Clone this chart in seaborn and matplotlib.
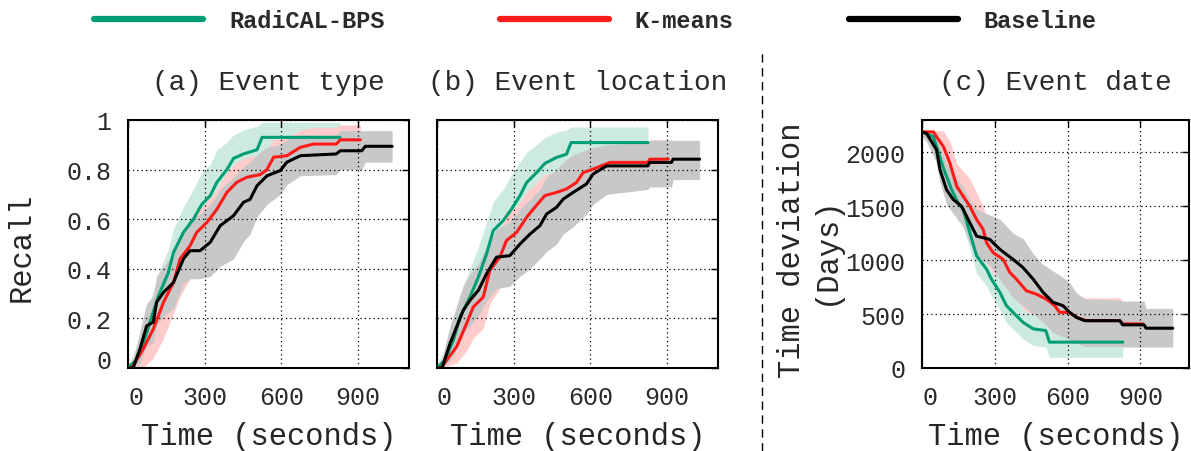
import matplotlib
matplotlib.use("Agg")
import matplotlib.pyplot as plt
from matplotlib.lines import Line2D
from matplotlib.font_manager import FontProperties
import seaborn as sns

# ---------------- data ----------------
SERIES = ["RadiCAL-BPS", "K-means", "Baseline"]
X_TICKS = [0, 300, 600, 900]
RECALL_TICKS = [0, 0.2, 0.4, 0.6, 0.8, 1.0]
RECALL_TICK_LABELS = ["0", "0.2", "0.4", "0.6", "0.8", "1"]
DEV_TICKS = [0, 500, 1000, 1500, 2000]
TITLES = ["(a) Event type", "(b) Event location", "(c) Event date"]

# (a) Event type
A_RAD_T = [0, 30, 60, 86, 119, 158, 178, 217, 256, 289, 322, 348, 387, 413, 452, 505, 525, 830]
A_RAD_V = [0, 0.03, 0.10, 0.185, 0.29, 0.385, 0.466, 0.547, 0.60, 0.66, 0.695, 0.749, 0.80, 0.845, 0.863, 0.88, 0.93, 0.93]
A_RAD_LO = [0, 0, 0.04, 0.11, 0.20, 0.29, 0.37, 0.44, 0.49, 0.55, 0.59, 0.64, 0.70, 0.76, 0.78, 0.80, 0.87, 0.87]
A_RAD_HI = [0.01, 0.08, 0.17, 0.27, 0.38, 0.48, 0.56, 0.65, 0.72, 0.79, 0.82, 0.88, 0.91, 0.94, 0.96, 0.975, 0.99, 0.99]

A_KM_T = [0, 15, 60, 99, 139, 178, 204, 243, 269, 309, 348, 387, 426, 465, 518, 544, 570, 622, 675, 727, 815, 831, 910]
A_KM_V = [0, 0, 0.077, 0.157, 0.265, 0.345, 0.44, 0.493, 0.547, 0.587, 0.64, 0.708, 0.749, 0.769, 0.78, 0.80, 0.85, 0.856, 0.89, 0.903, 0.903, 0.92, 0.92]
A_KM_LO = [0, 0, 0, 0.04, 0.12, 0.22, 0.29, 0.36, 0.42, 0.47, 0.53, 0.60, 0.65, 0.68, 0.70, 0.72, 0.77, 0.78, 0.82, 0.84, 0.84, 0.86, 0.86]
A_KM_HI = [0.01, 0.03, 0.13, 0.23, 0.35, 0.44, 0.53, 0.58, 0.63, 0.67, 0.72, 0.79, 0.83, 0.85, 0.86, 0.88, 0.92, 0.93, 0.96, 0.97, 0.97, 0.98, 0.98]

A_BL_T = [0, 20, 47, 73, 99, 112, 139, 178, 217, 243, 282, 322, 361, 413, 452, 478, 505, 544, 596, 622, 675, 815, 831, 915, 929, 1034]
A_BL_V = [0, 0, 0.077, 0.17, 0.185, 0.265, 0.305, 0.345, 0.44, 0.473, 0.473, 0.507, 0.574, 0.614, 0.668, 0.68, 0.735, 0.775, 0.796, 0.83, 0.856, 0.863, 0.876, 0.876, 0.894, 0.894]
A_BL_LO = [0, 0, 0.02, 0.09, 0.10, 0.17, 0.21, 0.24, 0.34, 0.36, 0.36, 0.37, 0.41, 0.44, 0.51, 0.54, 0.61, 0.66, 0.70, 0.74, 0.775, 0.78, 0.80, 0.80, 0.83, 0.83]
A_BL_HI = [0.01, 0.03, 0.15, 0.26, 0.29, 0.37, 0.41, 0.46, 0.56, 0.60, 0.62, 0.66, 0.72, 0.77, 0.81, 0.83, 0.86, 0.89, 0.90, 0.92, 0.94, 0.94, 0.957, 0.957, 0.957, 0.957]

# (b) Event location
B_RAD_T = [0, 30, 64, 90, 129, 162, 194, 220, 259, 292, 325, 351, 390, 422, 468, 507, 525, 826]
B_RAD_V = [0, 0.03, 0.112, 0.206, 0.286, 0.367, 0.46, 0.554, 0.594, 0.641, 0.695, 0.748, 0.788, 0.825, 0.849, 0.862, 0.909, 0.909]
B_RAD_LO = [0, 0, 0.05, 0.12, 0.19, 0.26, 0.34, 0.43, 0.47, 0.52, 0.57, 0.63, 0.68, 0.72, 0.75, 0.77, 0.85, 0.85]
B_RAD_HI = [0.01, 0.08, 0.19, 0.30, 0.40, 0.49, 0.59, 0.67, 0.72, 0.78, 0.83, 0.87, 0.90, 0.93, 0.95, 0.96, 0.972, 0.972]

B_KM_T = [0, 15, 77, 116, 142, 181, 207, 246, 272, 312, 351, 383, 422, 468, 507, 546, 572, 611, 677, 825, 833, 905]
B_KM_V = [0, 0, 0.086, 0.18, 0.246, 0.286, 0.394, 0.447, 0.514, 0.547, 0.608, 0.648, 0.695, 0.708, 0.722, 0.748, 0.788, 0.802, 0.829, 0.829, 0.842, 0.842]
B_KM_LO = [0, 0, 0.02, 0.07, 0.12, 0.16, 0.26, 0.32, 0.39, 0.43, 0.49, 0.54, 0.59, 0.61, 0.63, 0.66, 0.70, 0.72, 0.75, 0.75, 0.77, 0.77]
B_KM_HI = [0.01, 0.03, 0.15, 0.26, 0.33, 0.38, 0.49, 0.55, 0.62, 0.65, 0.71, 0.74, 0.78, 0.79, 0.80, 0.82, 0.86, 0.87, 0.90, 0.90, 0.92, 0.92]

B_BL_T = [0, 20, 51, 77, 103, 129, 162, 194, 233, 285, 325, 364, 403, 429, 468, 494, 533, 585, 611, 664, 825, 833, 918, 924, 1028]
B_BL_V = [0, 0, 0.099, 0.166, 0.233, 0.273, 0.313, 0.38, 0.447, 0.453, 0.50, 0.54, 0.574, 0.621, 0.648, 0.681, 0.708, 0.742, 0.782, 0.815, 0.815, 0.829, 0.829, 0.842, 0.842]
B_BL_LO = [0, 0, 0.03, 0.08, 0.14, 0.17, 0.21, 0.27, 0.32, 0.33, 0.37, 0.40, 0.44, 0.47, 0.50, 0.54, 0.57, 0.62, 0.66, 0.70, 0.72, 0.73, 0.73, 0.76, 0.76]
B_BL_HI = [0.01, 0.04, 0.17, 0.25, 0.33, 0.38, 0.42, 0.49, 0.56, 0.59, 0.64, 0.68, 0.72, 0.77, 0.80, 0.83, 0.86, 0.88, 0.89, 0.90, 0.91, 0.918, 0.918, 0.918, 0.918]

# (c) Event date
C_RAD_T = [0, 47, 60, 88, 122, 149, 170, 197, 225, 266, 286, 321, 348, 389, 416, 458, 510, 525, 827]
C_RAD_V = [2190, 2145, 2054, 1854, 1654, 1531, 1470, 1254, 1039, 916, 824, 701, 578, 485, 424, 363, 347, 240, 240]
C_RAD_LO = [2150, 2030, 1920, 1700, 1500, 1360, 1310, 1100, 880, 760, 670, 540, 420, 330, 270, 210, 195, 100, 100]
C_RAD_HI = [2200, 2200, 2180, 2000, 1810, 1690, 1630, 1410, 1200, 1070, 980, 860, 730, 640, 580, 520, 500, 390, 390]

C_KM_T = [0, 47, 60, 88, 115, 143, 170, 197, 225, 252, 266, 293, 334, 362, 389, 430, 471, 512, 547, 567, 608, 636, 677, 815, 827, 910]
C_KM_V = [2190, 2190, 2145, 2054, 1900, 1685, 1592, 1500, 1377, 1285, 1162, 1070, 1008, 885, 824, 716, 685, 639, 578, 516, 516, 470, 439, 439, 409, 409]
C_KM_LO = [2150, 2100, 1950, 1850, 1700, 1490, 1400, 1300, 1180, 1090, 970, 880, 810, 690, 630, 520, 490, 450, 390, 330, 330, 290, 260, 260, 230, 230]
C_KM_HI = [2200, 2200, 2200, 2200, 2100, 1900, 1820, 1760, 1620, 1500, 1380, 1280, 1210, 1080, 1020, 910, 880, 840, 780, 720, 720, 680, 650, 650, 620, 620]

C_BL_T = [0, 19, 60, 74, 101, 129, 163, 197, 225, 279, 321, 375, 416, 458, 499, 540, 581, 608, 636, 670, 815, 827, 915, 923, 1033]
C_BL_V = [2190, 2175, 2023, 1839, 1654, 1562, 1500, 1347, 1223, 1193, 1100, 1008, 932, 824, 701, 609, 578, 516, 470, 439, 439, 400, 400, 369, 369]
C_BL_LO = [2150, 2100, 1900, 1720, 1520, 1430, 1340, 1160, 1030, 960, 820, 650, 580, 500, 424, 330, 290, 260, 230, 200, 200, 194, 194, 194, 194]
C_BL_HI = [2200, 2200, 2150, 2050, 1900, 1800, 1700, 1560, 1470, 1420, 1380, 1250, 1200, 1060, 960, 900, 840, 790, 700, 640, 630, 620, 620, 553, 553]

# ---------------- style ----------------
LINE_COLORS = ["#009e73", "#ff1a1a", "#000000"]
BAND_COLORS = ["#cdeae1", "#ffcccc", "#c8c8c8"]

sns.set_style("white")
plt.rcParams["font.family"] = ["Liberation Mono", "DejaVu Sans"]
plt.rcParams["text.color"] = "#2a2a2a"

fig = plt.figure(figsize=(11.91, 4.52), dpi=100)
W, H = 1191.0, 452.0
bottom = (H - 369) / H
height = 248 / H
ax_a = fig.add_axes([128 / W, bottom, 281 / W, height])
ax_b = fig.add_axes([437 / W, bottom, 281 / W, height])
ax_c = fig.add_axes([922 / W, bottom, 267 / W, height])

panels = [
    (ax_a, [(A_RAD_T, A_RAD_V, A_RAD_LO, A_RAD_HI), (A_KM_T, A_KM_V, A_KM_LO, A_KM_HI), (A_BL_T, A_BL_V, A_BL_LO, A_BL_HI)]),
    (ax_b, [(B_RAD_T, B_RAD_V, B_RAD_LO, B_RAD_HI), (B_KM_T, B_KM_V, B_KM_LO, B_KM_HI), (B_BL_T, B_BL_V, B_BL_LO, B_BL_HI)]),
    (ax_c, [(C_RAD_T, C_RAD_V, C_RAD_LO, C_RAD_HI), (C_KM_T, C_KM_V, C_KM_LO, C_KM_HI), (C_BL_T, C_BL_V, C_BL_LO, C_BL_HI)]),
]

for idx, (ax, series) in enumerate(panels):
    for (t, v, lo, hi), bc in zip(series, BAND_COLORS):
        ax.fill_between(t, lo, hi, color=bc, linewidth=0, zorder=1)
    for (t, v, lo, hi), lc in zip(series, LINE_COLORS):
        sns.lineplot(x=t, y=v, ax=ax, color=lc, linewidth=2.2,
                     estimator=None, sort=False, zorder=3)
    ax.set_xlim(0, 1100)
    ax.set_xticks(X_TICKS)
    ax.set_xticklabels([str(x) for x in X_TICKS])
    ax.grid(True, linestyle=(0, (1, 2.5)), color="black", linewidth=0.9, zorder=2)
    ax.tick_params(direction="in", top=True, right=True, length=5, width=1,
                   labelsize=18, pad=12, colors="black", labelcolor="#2a2a2a")
    for sp in ax.spines.values():
        sp.set_linewidth(1.5)
        sp.set_color("black")
    ax.set_title(TITLES[idx], fontsize=20, pad=22)
    ax.set_xlabel("Time (seconds)", fontsize=22)
    ax.xaxis.set_label_coords(0.5, -0.215)
    ax.get_xticklabels()[0].set_ha("left")
    ax.set_axisbelow(False)

for ax in (ax_a, ax_b):
    ax.set_ylim(0, 1)
    ax.set_yticks(RECALL_TICKS)
ax_a.set_yticklabels(RECALL_TICK_LABELS)
ax_a.get_yticklabels()[0].set_va("baseline")
ax_b.set_yticklabels([])
ax_a.set_ylabel("Recall", fontsize=22)
ax_a.yaxis.set_label_coords(-0.325, 0.49)

ax_c.set_ylim(0, 2300)
ax_c.set_yticks(DEV_TICKS)
ax_c.set_yticklabels([str(d) for d in DEV_TICKS])
ax_c.set_ylabel("Time deviation\n(Days)", fontsize=22, linespacing=1.15)
ax_c.yaxis.set_label_coords(-0.305, 0.48)

# separator
fig.add_artist(Line2D([762 / W, 762 / W], [0, 1 - 53 / H], transform=fig.transFigure,
                      color="black", linewidth=1.0, linestyle=(0, (6, 4))))

# legend
handles = [Line2D([0], [0], color=c, linewidth=4.5, solid_capstyle="round") for c in LINE_COLORS]
fig.legend(handles, SERIES, loc="upper center", bbox_to_anchor=(0.5, 1.025), ncol=3,
           frameon=False, prop=FontProperties(family="Liberation Mono", weight="bold", size=17),
           handlelength=4.6, handletextpad=1.1, columnspacing=4.9)

fig.savefig("out.png", dpi=100)
